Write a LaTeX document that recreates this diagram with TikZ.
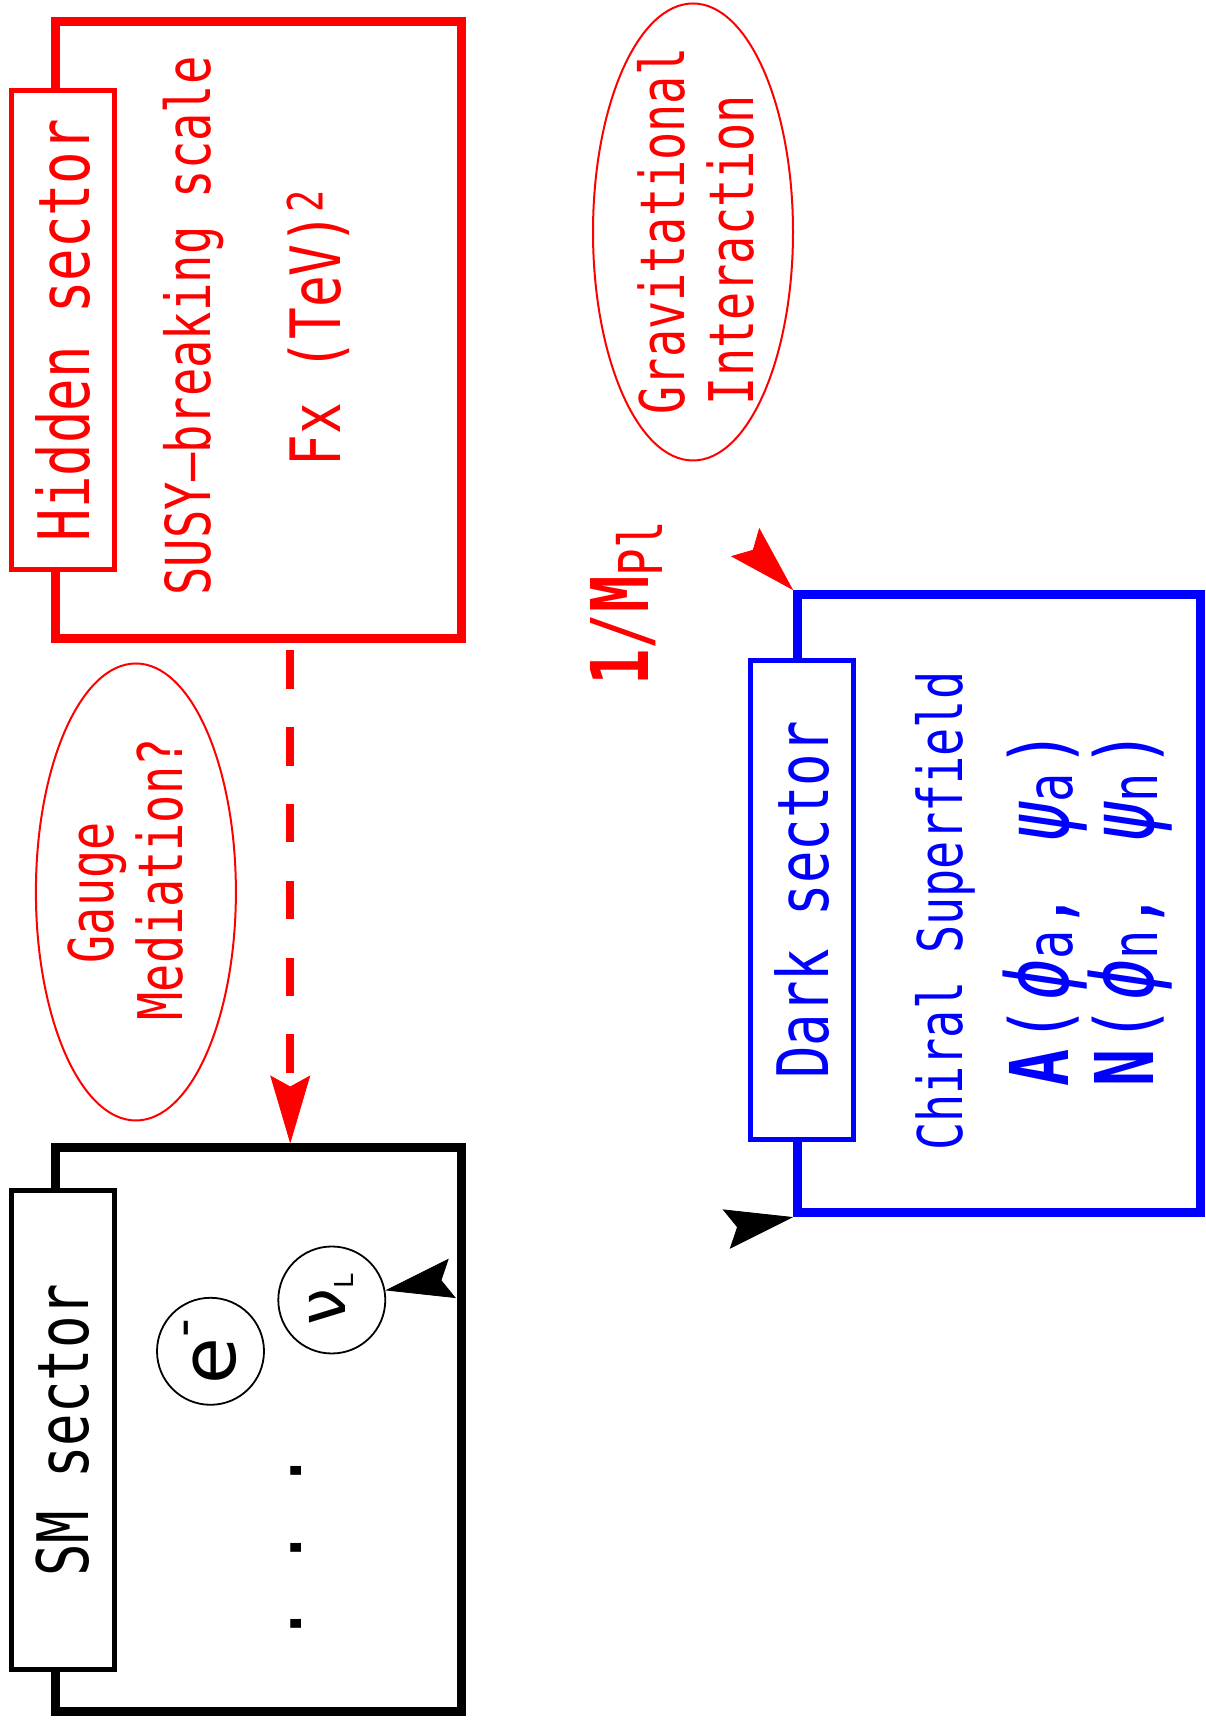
\documentclass[tikz,border=0pt]{standalone}
\usepackage{fontspec}
\usepackage{tikz}
\usetikzlibrary{arrows.meta, positioning, shapes.geometric, decorations.markings}
\newfontfamily\gothfont[FakeStretch=0.76]{DejaVu Sans Mono}
\newfontfamily\dotfont{DejaVu Sans Mono}
\newfontfamily\particlefont{DejaVu Sans}
\newcommand{\gsz}[1]{\fontsize{#1}{#1}\selectfont}
\newcommand{\fieldsub}[1]{\raisebox{-2pt}{\gsz{32pt}#1}}
\newcommand{\fieldgreek}[1]{\hspace{3pt}{\itshape\gsz{45pt}#1}}

\begin{document}
\begin{tikzpicture}[x=0.5pt, y=0.5pt,
    sectorbox/.style={draw, line width=4.5pt, inner sep=0pt, minimum width=202.75pt},
    labelbox/.style={draw, fill=white, line width=2.5pt, rotate=90, inner sep=0pt,
      minimum width=239.75pt, minimum height=51.5pt, font=\gothfont\gsz{35.5pt}},
    txt/.style={rotate=90, anchor=base, inner sep=0pt},
    oval/.style={draw=red, ellipse, line width=1pt, inner sep=0pt,
      minimum width=100pt, minimum height=228.5pt},
    particle/.style={draw, circle, line width=0.9pt, inner sep=0pt,
      minimum size=53.5pt, rotate=90},
    sectortip/.tip={Stealth[length=34pt, width=20pt, inset=5.5pt, line width=0.4pt]},
    tipend/.style={decorate, decoration={markings,
      mark=at position 1 with {\arrow{Stealth[length=34pt, width=20pt, inset=5.5pt, line width=0.4pt, color=#1]}}}},
    tipboth/.style={decorate, decoration={markings,
      mark=at position 0 with {\arrowreversed{sectortip}},
      mark=at position 1 with {\arrow{sectortip}}}},
    gaugeflow/.style={red, line width=4pt, dash pattern=on 19.2pt off 19.2pt,
      shorten <=3.5pt, arrows={-sectortip}}]
  \useasboundingbox (0,0) rectangle (1205,1729);

  \node[sectorbox, draw=red, minimum height=308.8pt] (hidden) at (258.25,1398.8) {};
  \node[sectorbox, minimum height=281.85pt] (sm) at (258.25,299.15) {};
  \node[sectorbox, draw=blue, minimum width=201.6pt, minimum height=308.95pt] (dark) at (999.3,825.35) {};

  \node[labelbox, draw=red, text=red] (hiddenlabel) at ([xshift=6pt]hidden.west) {Hidden sector};
  \node[labelbox] (smlabel) at ([xshift=6pt]sm.west) {SM sector};
  \node[labelbox, draw=blue, text=blue] (darklabel) at ([xshift=4.6pt, yshift=1.8pt]dark.west) {Dark sector};

  \node[txt, red, font=\gothfont\gsz{31pt}] (susy) at (210,1403.1) {SUSY–breaking scale};
  \node[txt, red, font=\gothfont\gsz{34.7pt}] (fscale) at (340.6,1401) {Fx (TeV)\textsuperscript{2}};

  \node[oval] (grav) at (693,1497) {};
  \node[txt, red, font=\gothfont\gsz{30.8pt}] (gravline) at ([shift={(-8.5,1)}]grav.center) {Gravitational};
  \node[txt, red, font=\gothfont\gsz{30.8pt}] (interline) at ([shift={(60,-18)}]grav.center) {Interaction};

  \node[oval] (gauge) at (135.9,837) {};
  \node[txt, red, font=\gothfont\gsz{30.8pt}] (gaugeline) at ([shift={(-22.2,-0.75)}]gauge.center) {Gauge};
  \node[txt, red, font=\gothfont\gsz{30.8pt}] (medline) at ([shift={(46.6,12.6)}]gauge.center) {Mediation?};

  \node[txt, red, font=\gothfont\gsz{39.8pt}] (planck) at (648,1125.5) {\textbf{1}/\textbf{M}\raisebox{-7pt}{\gsz{30.2pt}Pl}};

  \node[txt, blue, font=\gothfont\gsz{30.8pt}] (chiral) at (962.7,817.7) {Chiral Superfield};
  \node[txt, blue, font=\gothfont\gsz{40.5pt}] (fieldA) at (1068,820.6) {\textbf{A}\hspace{3pt}(\fieldgreek{ϕ}\fieldsub{a},\hspace{3pt} \fieldgreek{ψ}\fieldsub{a}\hspace{3pt})};
  \node[txt, blue, font=\gothfont\gsz{40.5pt}] (fieldN) at (1153.6,820.6) {\textbf{N}\hspace{3pt}(\fieldgreek{ϕ}\fieldsub{n},\hspace{3pt} \fieldgreek{ψ}\fieldsub{n}\hspace{3pt})};

  \node[particle, font=\particlefont\gsz{38pt}] (electron) at (210.5,377.7) {e\raisebox{17.5pt}{\gsz{26pt}-}};
  \node[particle, font=\particlefont\gsz{33pt}] (nu) at (331.8,429) {ν\raisebox{-4pt}{\gsz{13pt}L}};
  \node[txt, font=\dotfont\gsz{36pt}] (dots) at (301,181.4) {.\hspace{16.6pt}.\hspace{16.6pt}.};

  \draw[gaugeflow] ([xshift=16pt]hidden.south) -- ([xshift=16pt]sm.north);
  \path[tipend=red] (hidden.east) to[out=-30, in=135] (dark.north west);
  \path[tipboth] (nu) -- (dark.south west);
\end{tikzpicture}
\end{document}
